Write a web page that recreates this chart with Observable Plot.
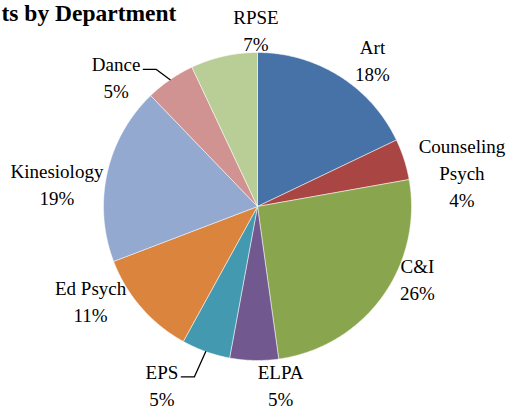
<!DOCTYPE html>
<html><head><meta charset="utf-8">
<script src="https://cdn.jsdelivr.net/npm/d3@7"></script>
<script src="https://cdn.jsdelivr.net/npm/@observablehq/plot@0.6"></script>
<style>html,body{margin:0;padding:0;background:#fff;} svg{display:block}</style>
</head><body><div id="chart"></div>
<script>
// ---- data ----
const departments = ["Art", "Counseling Psych", "C&I", "ELPA", "EPS", "Ed Psych", "Kinesiology", "Dance", "RPSE"];
const shares = [17.9, 4.3, 25.6, 5.1, 5.1, 11.2, 18.6, 5.2, 7.0];
const sliceColors = ["#4672A8", "#A94644", "#89A54E", "#71588F", "#4399AF", "#DB843D", "#93A9CF", "#D19392", "#B9CD96"];
const titleText = "ts by Department";

// ---- layout (pixels) ----
const W = 509, H = 409;
const CX = 257, CY = 206, R = 154;
const labelRadius = 1.2;
const labelShiftY = -3;
const labelNudge = {
  "Art": [16.5, 11.4], "Counseling Psych": [28.5, 24.5], "C&I": [10.5, -34.6],
  "ELPA": [27.2, -4.7], "EPS": [-33.5, 5.9], "Ed Psych": [-27.5, -25.2],
  "Kinesiology": [-20.2, 19.3], "Dance": [-36.6, 24.6], "RPSE": [38.8, 5.3]
};
const leaderLabels = ["Dance", "EPS"];
const FONT = "Liberation Serif";
const FS = 19, LH = 27;

const rows = departments.map((name, i) => ({name, share: shares[i]}));
const total = d3.sum(shares);
const arcs = d3.pie().sort(null).value(d => d.share)(rows);

// slice polygons (data units, radius 1)
const slicePts = arcs.flatMap(a => {
  const name = a.data.name;
  const n = Math.max(2, Math.ceil((a.endAngle - a.startAngle) / (Math.PI / 360)));
  const pts = [{name, x: 0, y: 0}];
  for (let i = 0; i <= n; i++) {
    const t = a.startAngle + (a.endAngle - a.startAngle) * i / n;
    pts.push({name, x: Math.sin(t), y: Math.cos(t)});
  }
  pts.push({name, x: 0, y: 0});
  return pts;
});

const ctx = document.createElement("canvas").getContext("2d");
ctx.font = `${FS}px "${FONT}"`;

const labelLines = name => name === "Counseling Psych" ? ["Counseling", "Psych"] : [name];

const labels = arcs.map(a => {
  const name = a.data.name;
  const mid = (a.startAngle + a.endAngle) / 2;
  const [nx, ny] = labelNudge[name];
  const px = CX + labelRadius * R * Math.sin(mid) + nx;
  const py = CY - labelRadius * R * Math.cos(mid) + ny + labelShiftY;
  const lines = labelLines(name).concat([Math.round(a.data.share / total * 100) + "%"]);
  return {name, mid, px, py, lines, x: (px - CX) / R, y: (CY - py) / R, text: lines.join("\n")};
});

const leaderPts = labels.filter(l => leaderLabels.includes(l.name)).flatMap(l => {
  const w = ctx.measureText(l.lines[0]).width;
  const firstY = l.py - (l.lines.length - 1) / 2 * LH + 7;
  const endX = l.px + w / 2 + 3;
  const pts = [
    [CX + R * Math.sin(l.mid), CY - R * Math.cos(l.mid)],
    [endX + 13, firstY],
    [endX, firstY]
  ];
  return pts.map(([px, py]) => ({name: l.name, x: (px - CX) / R, y: (CY - py) / R}));
});

const chart = Plot.plot({
  width: W, height: H,
  margin: 0,
  style: {background: "white", overflow: "visible"},
  x: {domain: [-1, 1], range: [CX - R, CX + R], axis: null},
  y: {domain: [-1, 1], range: [CY + R, CY - R], axis: null},
  color: {domain: departments, range: sliceColors},
  marks: [
    Plot.line(slicePts, {x: "x", y: "y", z: "name", fill: "name", stroke: "white", strokeWidth: 0.6, strokeOpacity: 0.85, curve: "linear"}),
    Plot.line(leaderPts, {x: "x", y: "y", z: "name", stroke: "black", strokeWidth: 1.3, fill: "none"}),
    Plot.text(labels, {x: "x", y: "y", text: "text", fontSize: FS, fontFamily: FONT, lineHeight: LH / FS, fill: "black", textAnchor: "middle"}),
    Plot.text([titleText], {frameAnchor: "top-left", text: d => d, textAnchor: "start", lineAnchor: "top", dx: 1, dy: 4, fontSize: 23.5, fontWeight: "bold", fontFamily: FONT, fill: "black"})
  ]
});
document.getElementById("chart").appendChild(chart);
</script>
</body></html>
